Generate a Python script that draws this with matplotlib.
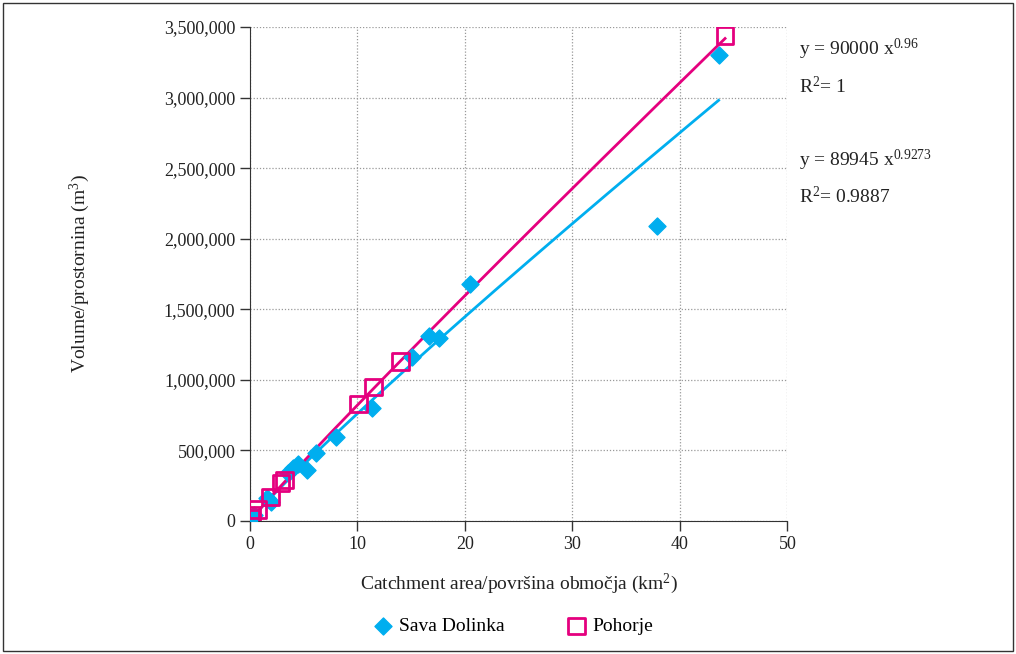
import numpy as np
import matplotlib.pyplot as plt
from matplotlib.patches import Rectangle
from matplotlib.ticker import FuncFormatter

plt.rcParams['font.family'] = ['Liberation Serif', 'DejaVu Serif']
plt.rcParams['mathtext.fontset'] = 'custom'
plt.rcParams['mathtext.rm'] = 'Liberation Serif'
plt.rcParams['mathtext.it'] = 'Liberation Serif:italic'
plt.rcParams['mathtext.bf'] = 'Liberation Serif:bold'

# Sava Dolinka (diamonds)
sava_x = [43.6, 37.9, 20.5, 17.6, 16.7, 15.1, 11.4, 8.0, 6.1, 5.3, 4.5, 4.0, 3.5, 2.0, 1.6, 0.4, 0.2]
sava_y = [3300000, 2090000, 1680000, 1300000, 1310000, 1160000, 800000, 595000, 480000, 360000,
          405000, 375000, 340000, 135000, 160000, 45000, 25000]

# Pohorje (squares)
poh_x = [44.2, 14.0, 11.5, 10.1, 3.2, 2.9, 1.9, 0.7, 0.2, 0.1]
poh_y = [3440000, 1130000, 950000, 830000, 290000, 270000, 170000, 80000, 40000, 20000]

# power trendlines y = a * x^b
poh_a, poh_b = 90000, 0.96
sava_a, sava_b = 89945, 0.9273

blue = '#00aeef'
pink = '#e5007e'

fig = plt.figure(figsize=(10.16, 6.54), dpi=100)
ax = fig.add_axes([0.246, 0.2034, 0.529, 0.7553])

xs = np.linspace(0.1, 44.2, 300)
ax.plot(xs, poh_a * xs ** poh_b, color=pink, lw=2, zorder=3)
xs2 = np.linspace(0.1, 43.6, 300)
ax.plot(xs2, sava_a * xs2 ** sava_b, color=blue, lw=2, zorder=2)

ax.scatter(sava_x, sava_y, marker='D', s=75, color=blue, zorder=4, label='Sava Dolinka')
ax.scatter(poh_x, poh_y, marker='s', s=140, facecolors='none', edgecolors=pink, linewidths=2,
           zorder=5, label='Pohorje')

ax.set_xlim(0, 50)
ax.set_ylim(0, 3500000)
ax.set_xticks(range(0, 51, 10))
ax.set_yticks(range(0, 3500001, 500000))
ax.yaxis.set_major_formatter(FuncFormatter(lambda v, p: f'{int(v):,}'))
ax.grid(True, color='#999999', linestyle=(0, (1, 1.5)), linewidth=0.9)
ax.set_axisbelow(True)
for s in ['top', 'right']:
    ax.spines[s].set_visible(False)
ax.spines['left'].set_color('#333333')
ax.spines['bottom'].set_color('#333333')
ax.tick_params(labelsize=13, length=7, width=1, color='#333333', labelcolor='#222222')
ax.set_xlabel('Catchment area/površina območja (km$^2$)', fontsize=14, labelpad=14, color='#222222')
ax.set_ylabel('Volume/prostornina (m$^3$)', fontsize=14, labelpad=52, color='#222222')

fig.text(0.786, 0.925, 'y = 90000 x$^{0.96}$', fontsize=14, color='#222222', va='center')
fig.text(0.786, 0.868, 'R$^2$= 1', fontsize=14, color='#222222', va='center')
fig.text(0.786, 0.755, 'y = 89945 x$^{0.9273}$', fontsize=14, color='#222222', va='center')
fig.text(0.786, 0.700, 'R$^2$= 0.9887', fontsize=14, color='#222222', va='center')

fig.legend(loc='center', bbox_to_anchor=(0.505, 0.042), ncol=2, frameon=False, fontsize=14,
           handlelength=1.0, handletextpad=0.3, columnspacing=3.2, scatterpoints=1)

fig.patches.append(Rectangle((0.003, 0.005), 0.994, 0.99, transform=fig.transFigure,
                             fill=False, edgecolor='#333333', lw=1))

fig.savefig('out.png', dpi=100)
